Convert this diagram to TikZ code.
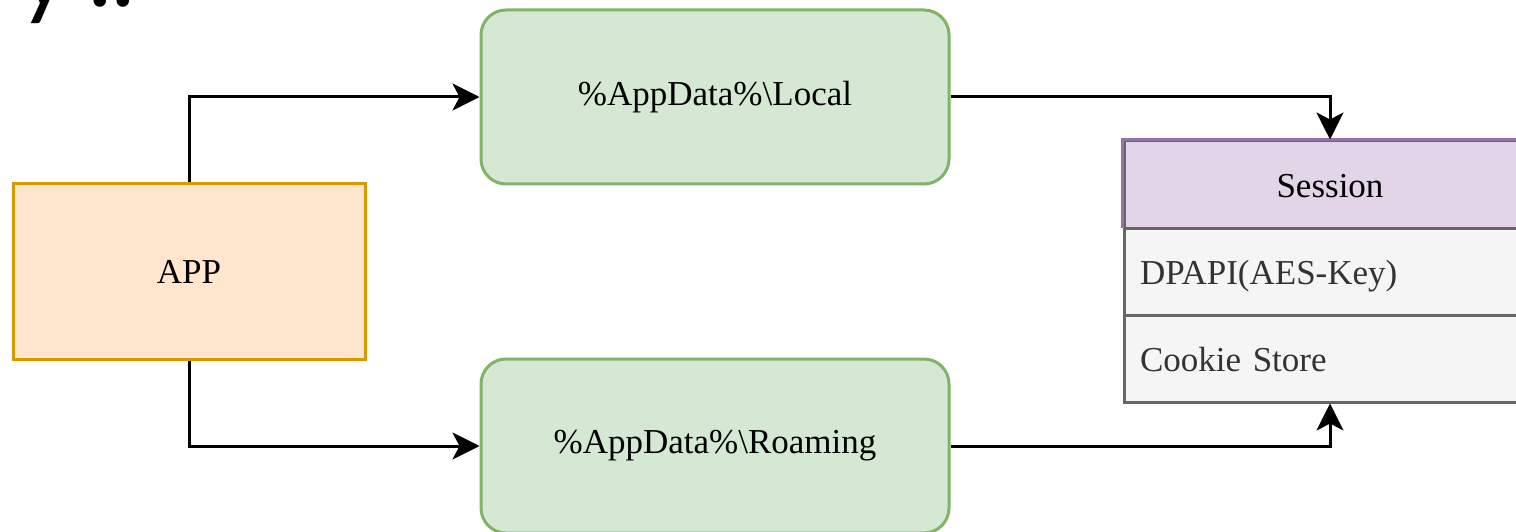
\documentclass[tikz,border=0pt]{standalone}
\usepackage{fontspec}
\setmainfont{Liberation Serif}
\newfontfamily\headfont{Lato}
\usetikzlibrary{shapes.multipart,arrows.meta}
\usepackage{xcolor}

\definecolor{appfill}{HTML}{FFE6CC}
\definecolor{appdraw}{HTML}{D79B00}
\definecolor{dirfill}{HTML}{D5E8D4}
\definecolor{dirdraw}{HTML}{82B366}
\definecolor{sesfill}{HTML}{E1D5E7}
\definecolor{sesdraw}{HTML}{9673A6}
\definecolor{rowfill}{HTML}{F5F5F5}
\definecolor{rowdraw}{HTML}{666666}
\definecolor{rowtext}{HTML}{333333}

\begin{document}
\begin{tikzpicture}[x=1pt, y=-1pt, line width=3pt,
  font=\fontsize{35}{42}\selectfont,
  app/.style={rectangle, draw=appdraw, fill=appfill, minimum width=352pt, minimum height=175pt},
  folder/.style={rectangle, rounded corners=25pt, draw=dirdraw, fill=dirfill, minimum width=468pt, minimum height=174pt},
  record/.style={rectangle split, rectangle split parts=#1, draw=rowdraw, anchor=center,
    rectangle split part fill={sesfill,rowfill,rowfill},
    text width=380pt, inner xsep=16pt, inner ysep=0pt},
  flow/.style={-{Stealth[length=27pt,width=27pt,inset=7pt]}, line width=3pt}]
  \useasboundingbox (0,0) rectangle (1516,532);
  \clip (0,0) rectangle (1516,532);

  % cut-off heading above the diagram
  \node[anchor=base west, inner sep=0pt, font=\headfont\fontsize{100}{100}\selectfont] (heading) at (17,7) {y\kern18pt..};

  \node[app] (app) at (189,271.5) {APP};
  \node[folder] (local) at (715,97) {\%AppData\%\textbackslash Local};
  \node[folder] (roam) at (715,446) {\%AppData\%\textbackslash Roaming};

  \node[record=3] (session) at (1330,271.5) {
  \nodepart{one}\centering\rule[-29pt]{0pt}{84pt}Session\par
  \nodepart{two}\raggedright\rule[-29pt]{0pt}{84pt}\color{rowtext}\mbox{DPAPI(AES-Key)}\par
  \nodepart{three}\raggedright\rule[-29pt]{0pt}{84pt}\color{rowtext}\mbox{Cookie Store}\par
  };
  \draw[sesdraw] (session.one split west) -- (session.north west) -- (session.north east);

  \draw[flow] (app.north) |- (local.west);
  \draw[flow] (app.south) |- (roam.west);
  \draw[flow] (local.east) -| (session.north);
  \draw[flow] (roam.east) -| (session.south);
\end{tikzpicture}
\end{document}
